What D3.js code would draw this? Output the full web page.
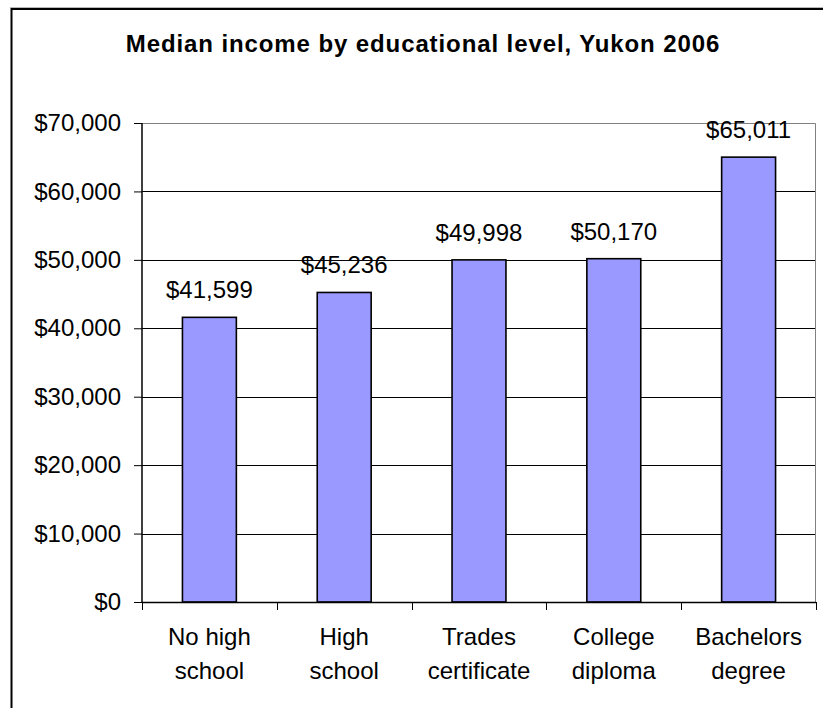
<!DOCTYPE html>
<html>
<head>
<meta charset="utf-8">
<script src="https://cdn.jsdelivr.net/npm/d3@7"></script>
<style>
  html, body { margin: 0; padding: 0; background: #fff; }
  svg { display: block; }
  text { font-family: "Liberation Sans", Arial, sans-serif; fill: #000; }
</style>
</head>
<body>
<script>
// Median income by educational level, Yukon 2006
const categories = [
  ["No high", "school"],
  ["High", "school"],
  ["Trades", "certificate"],
  ["College", "diploma"],
  ["Bachelors", "degree"]
];
const incomes = [41599, 45236, 49998, 50170, 65011];
const yTicks = [0, 10000, 20000, 30000, 40000, 50000, 60000, 70000];
const titleText = "Median income by educational level, Yukon 2006";

const W = 823, H = 708;
const plot = { left: 142, right: 816, top: 123, bottom: 602 };
const FS = 24;

const svg = d3.select("body").append("svg")
  .attr("width", W).attr("height", H);

// chart frame
svg.append("line")
  .attr("x1", 10).attr("x2", W).attr("y1", 7.5).attr("y2", 7.5)
  .attr("stroke", "#b8b8b8").attr("stroke-width", 1);
svg.append("rect")
  .attr("x", 11.5).attr("y", 9)
  .attr("width", W + 20).attr("height", H + 20)
  .attr("fill", "none").attr("stroke", "#000").attr("stroke-width", 2);

// title
svg.append("text")
  .attr("x", 423).attr("y", 52)
  .attr("text-anchor", "middle")
  .attr("font-size", 24).attr("font-weight", "bold")
  .attr("letter-spacing", "0.9px")
  .text(titleText);

const x = d3.scaleBand()
  .domain(d3.range(categories.length))
  .range([plot.left, plot.right])
  .paddingInner(0.6).paddingOuter(0.3);

const y = d3.scaleLinear()
  .domain([0, 70000])
  .range([plot.bottom, plot.top]);

// plot area outline (top and right)
svg.append("path")
  .attr("d", `M${plot.left},${plot.top + 0.5}H${plot.right - 0.5}V${plot.bottom}`)
  .attr("fill", "none").attr("stroke", "#808080").attr("stroke-width", 1);

// gridlines
svg.append("g").selectAll("line")
  .data(yTicks.filter(t => t > 0 && t < 70000))
  .join("line")
  .attr("x1", plot.left).attr("x2", plot.right - 1)
  .attr("y1", d => Math.round(y(d)) + 0.5).attr("y2", d => Math.round(y(d)) + 0.5)
  .attr("stroke", "#000").attr("stroke-width", 1);

// bars
svg.append("g").selectAll("rect")
  .data(incomes)
  .join("rect")
  .attr("x", (d, i) => x(i))
  .attr("y", d => y(d))
  .attr("width", x.bandwidth())
  .attr("height", d => y(0) - y(d))
  .attr("fill", "#9999ff")
  .attr("stroke", "#000").attr("stroke-width", 1.6);

// value labels
const fmt = d3.format("$,");
svg.append("g").selectAll("text")
  .data(incomes)
  .join("text")
  .attr("x", (d, i) => x(i) + x.bandwidth() / 2)
  .attr("y", d => y(d) - 19)
  .attr("text-anchor", "middle")
  .attr("font-size", FS)
  .text(d => fmt(d));

// y axis
const yAxis = d3.axisLeft(y)
  .tickValues(yTicks)
  .tickFormat(d => fmt(d))
  .tickSize(8).tickPadding(13);
const gy = svg.append("g")
  .attr("transform", `translate(${plot.left},0)`)
  .call(yAxis);
gy.select(".domain").attr("stroke", "#000").attr("stroke-width", 1.5)
  .attr("d", `M0,${plot.top}V${plot.bottom}`);
gy.selectAll(".tick line").attr("stroke", "#000");
gy.selectAll(".tick text")
  .attr("font-size", FS).attr("font-family", "Liberation Sans, Arial, sans-serif")
  .attr("fill", "#000");

// x axis: ticks at category boundaries
const bounds = d3.range(categories.length + 1).map(i => plot.left + i * (plot.right - plot.left) / categories.length);
svg.append("line")
  .attr("x1", plot.left).attr("x2", plot.right)
  .attr("y1", plot.bottom + 0.5).attr("y2", plot.bottom + 0.5)
  .attr("stroke", "#000").attr("stroke-width", 1.5);
svg.append("g").selectAll("line")
  .data(bounds)
  .join("line")
  .attr("x1", d => Math.round(d) + 0.5).attr("x2", d => Math.round(d) + 0.5)
  .attr("y1", plot.bottom).attr("y2", plot.bottom + 8)
  .attr("stroke", "#000").attr("stroke-width", 1);

// category labels
const cl = svg.append("g").selectAll("text")
  .data(categories)
  .join("text")
  .attr("x", (d, i) => x(i) + x.bandwidth() / 2)
  .attr("y", 645)
  .attr("text-anchor", "middle")
  .attr("font-size", FS);
cl.selectAll("tspan")
  .data(d => d)
  .join("tspan")
  .attr("x", function () { return d3.select(this.parentNode).attr("x"); })
  .attr("dy", (d, i) => i === 0 ? 0 : 34)
  .text(d => d);
</script>
</body>
</html>
